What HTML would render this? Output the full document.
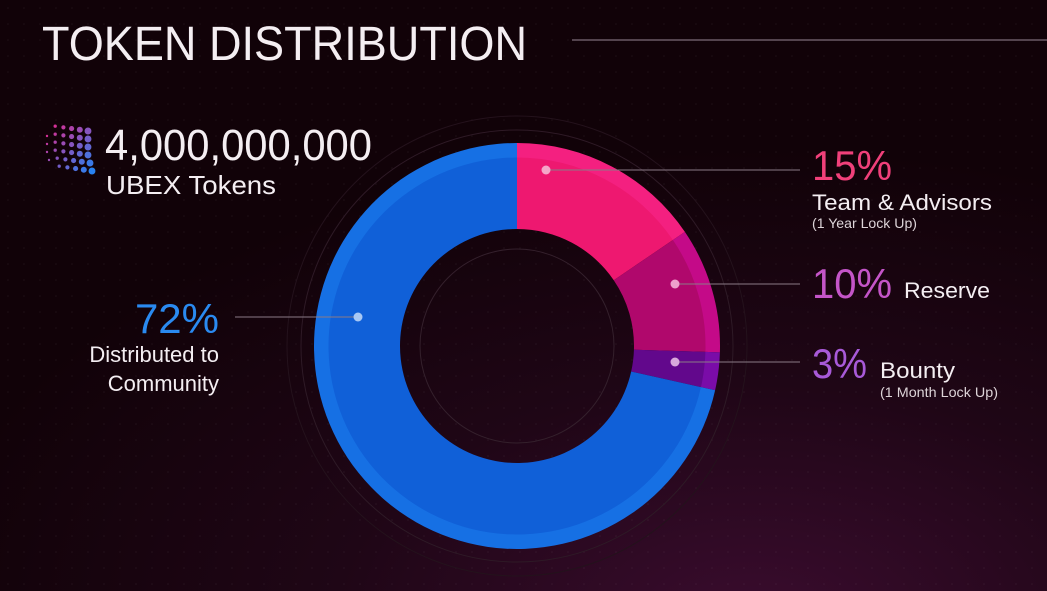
<!DOCTYPE html>
<html><head><meta charset="utf-8"><style>
html,body{margin:0;padding:0;width:1047px;height:591px;overflow:hidden;background:#120308;}
svg{display:block;font-family:"Liberation Sans",sans-serif;}
</style></head><body>
<svg id="chart" width="1047" height="591" viewBox="0 0 1047 591" xmlns="http://www.w3.org/2000/svg">
<defs>
<radialGradient id="glow" cx="0.72" cy="1.05" r="0.8">
<stop offset="0" stop-color="#3a0c2e"/><stop offset="0.5" stop-color="#1f0616"/><stop offset="1" stop-color="#110208"/>
</radialGradient>
<pattern id="dots" width="16" height="16" patternUnits="userSpaceOnUse"><circle cx="8" cy="8" r="0.8" fill="#ffffff" opacity="0.05"/></pattern>
</defs>
<rect width="1047" height="591" fill="url(#glow)"/>
<rect width="1047" height="591" fill="url(#dots)"/>
<text x="42" y="60" font-size="48" fill="#f4eef2" textLength="485" lengthAdjust="spacingAndGlyphs">TOKEN DISTRIBUTION</text>
<line x1="572" y1="40" x2="1047" y2="40" stroke="#6a5a66" stroke-width="1.5"/>
<g id="logo"></g>
<text x="105" y="160" font-size="44" fill="#f4eef2" textLength="267" lengthAdjust="spacingAndGlyphs">4,000,000,000</text>
<text x="106" y="194" font-size="26" fill="#f4eef2" textLength="170" lengthAdjust="spacingAndGlyphs">UBEX Tokens</text>
<circle cx="517" cy="346" r="216" fill="none" stroke="#2e1a26" stroke-width="1"/>
<circle cx="517" cy="346" r="230" fill="none" stroke="#24121c" stroke-width="1"/>
<circle cx="517" cy="346" r="97" fill="none" stroke="#34202c" stroke-width="1"/>
<g id="slices"></g>
<g id="labels">
<line x1="546" y1="170" x2="800" y2="170" stroke="#8a7a86" stroke-width="1"/>
<line x1="675" y1="284" x2="800" y2="284" stroke="#8a7a86" stroke-width="1"/>
<line x1="675" y1="362" x2="800" y2="362" stroke="#8a7a86" stroke-width="1"/>
<line x1="235" y1="317" x2="358" y2="317" stroke="#8a7a86" stroke-width="1"/>
<circle cx="546" cy="170" r="4.5" fill="#f4a6c8"/>
<circle cx="675" cy="284" r="4.5" fill="#eea0cc"/>
<circle cx="675" cy="362" r="4.5" fill="#d8a8dc"/>
<circle cx="358" cy="317" r="4.5" fill="#a8c8f4"/>
<text x="812" y="180" font-size="42" fill="#f0407a" textLength="80" lengthAdjust="spacingAndGlyphs">15%</text>
<text x="812" y="210" font-size="22" fill="#f4eef2" textLength="180" lengthAdjust="spacingAndGlyphs">Team &amp; Advisors</text>
<text x="812" y="228" font-size="14" fill="#ddd4d8" textLength="105" lengthAdjust="spacingAndGlyphs">(1 Year Lock Up)</text>
<text x="812" y="298" font-size="42" fill="#c455c8" textLength="80" lengthAdjust="spacingAndGlyphs">10%</text>
<text x="904" y="298" font-size="22" fill="#f4eef2" textLength="86" lengthAdjust="spacingAndGlyphs">Reserve</text>
<text x="812" y="378" font-size="42" fill="#a85ad8" textLength="55" lengthAdjust="spacingAndGlyphs">3%</text>
<text x="880" y="378" font-size="22" fill="#f4eef2" textLength="75" lengthAdjust="spacingAndGlyphs">Bounty</text>
<text x="880" y="397" font-size="14" fill="#ddd4d8" textLength="118" lengthAdjust="spacingAndGlyphs">(1 Month Lock Up)</text>
<text x="219" y="333" font-size="42" fill="#2a8af0" text-anchor="end">72%</text>
<text x="219" y="362" font-size="22" fill="#f4eef2" text-anchor="end">Distributed to</text>
<text x="219" y="391" font-size="22" fill="#f4eef2" text-anchor="end">Community</text>
</g>
</svg>
<script>
const categories = ["Team & Advisors", "Reserve", "Bounty", "Distributed to Community"];
const shares = [15.5, 10, 3, 71.5];
const innerColors = ["#ee1870", "#b0086c", "#62088c", "#1060d8"];
const outerColors = ["#f42080", "#c40a88", "#7a0ca8", "#1670e4"];
const NS = "http://www.w3.org/2000/svg";
const cx = 517, cy = 346, rOuter = 203, rBand = 188, rInner = 117;
const total = shares.reduce((a, b) => a + b, 0);
function angleOf(v) { return v / total * Math.PI * 2; }
function pt(r, a) { return [cx + r * Math.sin(a), cy - r * Math.cos(a)]; }
function arcPath(r0, r1, a0, a1) {
  const large = (a1 - a0) > Math.PI ? 1 : 0;
  const p0 = pt(r1, a0), p1 = pt(r1, a1), p2 = pt(r0, a1), p3 = pt(r0, a0);
  return `M${p0[0]},${p0[1]} A${r1},${r1} 0 ${large} 1 ${p1[0]},${p1[1]} L${p2[0]},${p2[1]} A${r0},${r0} 0 ${large} 0 ${p3[0]},${p3[1]} Z`;
}
const g = document.getElementById('slices');
let acc = 0;
shares.forEach((v, i) => {
  const a0 = angleOf(acc), a1 = angleOf(acc + v);
  acc += v;
  const band = document.createElementNS(NS, 'path');
  band.setAttribute('d', arcPath(rBand, rOuter, a0, a1));
  band.setAttribute('fill', outerColors[i]);
  
  
  g.appendChild(band);
  const p = document.createElementNS(NS, 'path');
  p.setAttribute('d', arcPath(rInner, rBand + 0.5, a0, a1));
  p.setAttribute('fill', innerColors[i]);
  
  
  g.appendChild(p);
});
// logo dots
const logo = document.getElementById('logo');
for (let c = 0; c < 6; c++) {
  for (let r = 0; r < 6; r++) {
    const x = 47 + c * 8.2 + (r > 3 ? (r - 3) * 2 : 0);
    const y = 125 + r * 8 + c * 1.2 - (c === 0 ? -3 : 0);
    if (c === 0 && (r === 0 || r === 5)) continue;
    const t = (c / 5) * 0.5 + (r / 5) * 0.5;
    const col = `rgb(${Math.round(230 - 190 * t)},${Math.round(40 + 90 * t)},${Math.round(140 + 100 * t)})`;
    const d = document.createElementNS(NS, 'circle');
    d.setAttribute('cx', x); d.setAttribute('cy', y);
    d.setAttribute('r', 1.2 + c * 0.45);
    d.setAttribute('fill', col);
    
    
    logo.appendChild(d);
  }
}
</script>
</body></html>
